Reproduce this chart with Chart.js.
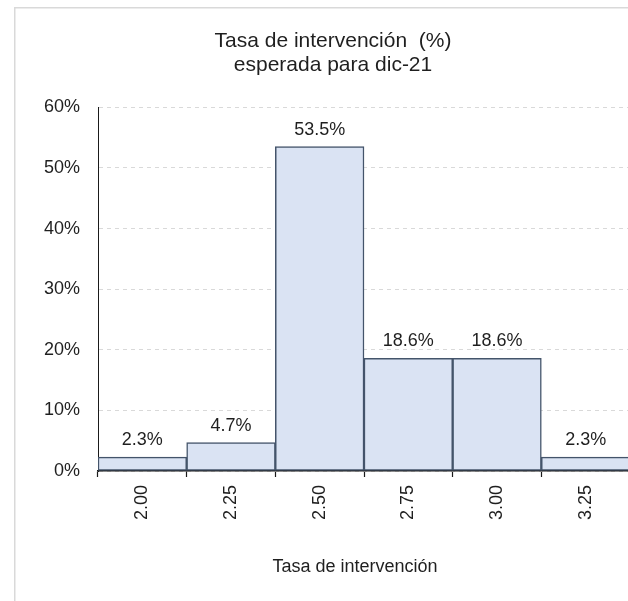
<!DOCTYPE html>
<html>
<head>
<meta charset="utf-8">
<title>Tasa de intervención esperada para dic-21</title>
<script src="https://cdn.jsdelivr.net/npm/chart.js@4/dist/chart.umd.min.js"></script>
<style>
  html, body { margin: 0; padding: 0; background: #ffffff; overflow: hidden; }
  #wrap { position: relative; width: 640px; height: 601px; }
</style>
</head>
<body>
<div id="wrap"><canvas id="chart"></canvas></div>
<script>
// Rate buckets (%) and share of responses in each bucket (%)
const categories = ['2.00', '2.25', '2.50', '2.75', '3.00', '3.25'];
const shares = [2.3, 4.7, 53.5, 18.6, 18.6, 2.3];
const yTicks = [0, 10, 20, 30, 40, 50, 60];

const titleLines = ['Tasa de intervención  (%)', 'esperada para dic-21'];
const xAxisTitle = 'Tasa de intervención';

const FONT = '"Liberation Sans", Arial, Helvetica, sans-serif';
const TEXT = '#1f1f1f';

// Light grey frame around the whole chart
const framePlugin = {
  id: 'frame',
  beforeDraw(chart) {
    const ctx = chart.ctx;
    ctx.save();
    ctx.fillStyle = '#ffffff';
    ctx.fillRect(0, 0, chart.width, chart.height);
    ctx.strokeStyle = '#d9d9d9';
    ctx.lineWidth = 1.5;
    ctx.strokeRect(14.75, 7.75, 800, 800);
    ctx.restore();
  }
};

// Percentage labels above each bar
const valueLabels = {
  id: 'valueLabels',
  afterDatasetsDraw(chart) {
    const ctx = chart.ctx;
    const meta = chart.getDatasetMeta(0);
    ctx.save();
    ctx.font = '18px ' + FONT;
    ctx.fillStyle = TEXT;
    ctx.textAlign = 'center';
    ctx.textBaseline = 'alphabetic';
    meta.data.forEach((bar, i) => {
      ctx.fillText(shares[i].toFixed(1) + '%', bar.x, bar.y - 12);
    });
    ctx.restore();
  }
};

// Horizontal axis title
const axisTitle = {
  id: 'axisTitle',
  afterDraw(chart) {
    const ctx = chart.ctx;
    const area = chart.chartArea;
    ctx.save();
    ctx.font = '18px ' + FONT;
    ctx.fillStyle = TEXT;
    ctx.textAlign = 'center';
    ctx.textBaseline = 'alphabetic';
    ctx.fillText(xAxisTitle, (area.left + area.right) / 2 - 9, 572);
    ctx.restore();
  }
};

new Chart(document.getElementById('chart'), {
  type: 'bar',
  data: {
    labels: categories,
    datasets: [{
      data: shares,
      backgroundColor: '#dae3f3',
      borderColor: '#44546a',
      borderWidth: 1.5,
      borderSkipped: false,
      barPercentage: 1,
      categoryPercentage: 1
    }]
  },
  options: {
    responsive: true,
    maintainAspectRatio: false,
    animation: false,
    devicePixelRatio: 1,
    layout: { padding: { left: 36, right: 10, top: 7, bottom: 0 } },
    plugins: {
      legend: { display: false },
      tooltip: { enabled: false },
      title: {
        display: true,
        text: titleLines,
        color: TEXT,
        font: { family: FONT, size: 21, weight: 'normal', lineHeight: 1.15 },
        padding: { top: 22, bottom: 30 }
      }
    },
    scales: {
      x: {
        grid: {
          offset: true,
          drawOnChartArea: false,
          drawTicks: true,
          tickLength: 6,
          color: '#1a1a1a',
          tickWidth: 1.2
        },
        border: { display: true, color: '#1a1a1a', width: 1.5 },
        ticks: {
          color: TEXT,
          font: { family: FONT, size: 18 },
          minRotation: 90,
          maxRotation: 90,
          padding: 8,
          autoSkip: false
        },
        afterFit(scale) { scale.height = 130; }
      },
      y: {
        min: yTicks[0],
        max: yTicks[yTicks.length - 1],
        afterBuildTicks(scale) { scale.ticks = yTicks.map(v => ({ value: v })); },
        grid: {
          color: '#d9d9d9',
          lineWidth: 1,
          drawTicks: false
        },
        border: { display: true, color: '#1a1a1a', width: 1, dash: [4, 4] },
        ticks: {
          color: TEXT,
          font: { family: FONT, size: 18 },
          padding: 18,
          callback: v => v + '%'
        },
        afterFit(scale) { scale.width = 62; }
      }
    }
  },
  plugins: [framePlugin, valueLabels, axisTitle]
});
</script>
</body>
</html>
